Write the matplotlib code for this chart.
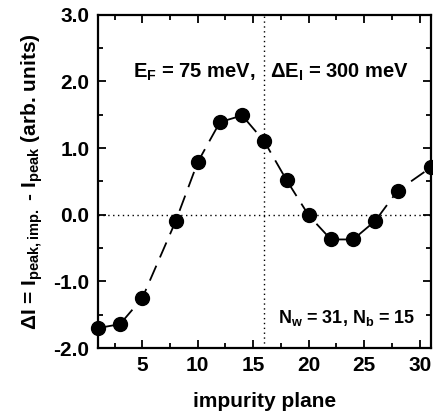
import matplotlib
matplotlib.use('Agg')
import matplotlib.pyplot as plt
from matplotlib.ticker import MultipleLocator

plt.rcParams['font.family'] = ['Liberation Sans', 'DejaVu Sans']
plt.rcParams['font.weight'] = 'bold'
plt.rcParams['mathtext.fontset'] = 'custom'
plt.rcParams['mathtext.rm'] = 'Liberation Sans:bold'
plt.rcParams['mathtext.it'] = 'Liberation Sans:bold'
plt.rcParams['mathtext.bf'] = 'Liberation Sans:bold'

# impurity plane position and peak change
plane = [1, 3, 5, 8, 10, 12, 14, 16, 18, 20, 22, 24, 26, 28, 31]
delta_i = [-1.70, -1.64, -1.25, -0.10, 0.79, 1.39, 1.49, 1.10, 0.52,
           -0.01, -0.37, -0.37, -0.09, 0.36, 0.71]

fig = plt.figure(figsize=(4.33, 4.11), dpi=100)
ax = fig.add_axes([0.226, 0.153, 0.769, 0.811])

ax.axhline(0, color='black', lw=1, ls=(0, (1, 2.5)))
ax.axvline(16, color='black', lw=1, ls=(0, (1, 2.5)))
ax.plot(plane, delta_i, color='black', lw=1.3, ls=(0, (9, 5)),
        marker='o', ms=10, clip_on=False, zorder=3)

ax.set_xlim(1, 31)
ax.set_ylim(-2.0, 3.0)
ax.xaxis.set_major_locator(MultipleLocator(5))
ax.xaxis.set_minor_locator(MultipleLocator(2.5))
ax.yaxis.set_minor_locator(MultipleLocator(0.5))
ax.set_yticks([-2, -1, 0, 1, 2, 3])
ax.set_yticklabels(['-2.0', '-1.0', '0.0', '1.0', '2.0', '3.0'])
ax.tick_params(which='both', direction='in', top=True, right=True,
               labelsize=15, width=1.3)
ax.tick_params(which='major', length=6, pad=6)
ax.tick_params(which='minor', length=3.5)
for s in ax.spines.values():
    s.set_linewidth(1.6)

ax.text(4.2, 2.14, r'E$_\mathregular{F}$ = 75 meV,', fontsize=14.5,
        fontweight='bold', va='center')
ax.text(16.5, 2.14, r'$\Delta$E$_\mathregular{I}$ = 300 meV', fontsize=14.5,
        fontweight='bold', va='center')
ax.text(29.6, -1.55, r'N$_\mathregular{w}$ = 31, N$_\mathregular{b}$ = 15',
        fontsize=13, fontweight='bold', va='center', ha='right')

ax.set_xlabel('impurity plane', fontsize=15, fontweight='bold', labelpad=12)
ax.set_ylabel(r'$\Delta$I = I$_\mathregular{peak,imp.}$ - I$_\mathregular{peak}$ (arb. units)',
              fontsize=15, fontweight='bold', labelpad=6)

fig.savefig('out.png', dpi=100)
